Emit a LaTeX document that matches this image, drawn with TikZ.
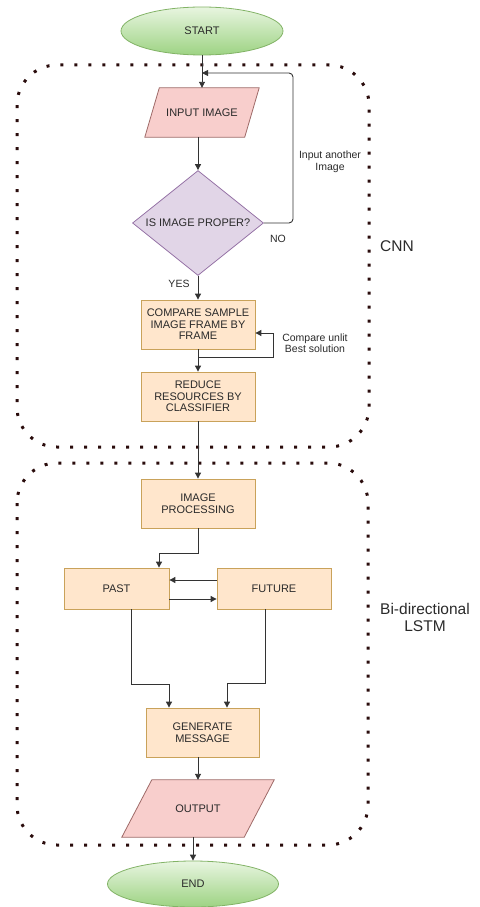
\documentclass[tikz,border=0pt]{standalone}
\usepackage{fontspec}
\setmainfont{Liberation Sans}
\usetikzlibrary{shapes.geometric,arrows.meta}
\definecolor{txt}{HTML}{2A2A2A}
\definecolor{ln}{HTML}{333333}
\definecolor{boxfill}{HTML}{FFE6CC}
\definecolor{boxline}{HTML}{C9A25A}
\definecolor{pinkfill}{HTML}{F8CECC}
\definecolor{pinkline}{HTML}{9E6A68}
\definecolor{lavfill}{HTML}{E1D5E7}
\definecolor{lavline}{HTML}{9673A6}
\definecolor{gtop}{HTML}{E8F5E0}
\definecolor{gbot}{HTML}{9DD383}
\definecolor{gline}{HTML}{82B366}
\definecolor{dotcol}{HTML}{2A0C0C}
\tikzset{
  every node/.style={text=txt, font=\fontsize{11}{11.5}\selectfont, align=center},
  procbox/.style={rectangle, draw=boxline, fill=boxfill, line width=0.8pt, inner sep=0pt},
  termin/.style={ellipse, draw=gline, top color=gtop, bottom color=gbot, line width=0.8pt, inner sep=0pt},
  iofill/.style={draw=pinkline, fill=pinkfill, line width=0.8pt},
  decbox/.style={diamond, draw=lavline, fill=lavfill, line width=0.8pt, inner sep=0pt},
  arr/.style={draw=ln, line width=0.9pt, -{Triangle[length=6pt,width=6pt]}},
  region/.style={draw=dotcol, line width=3pt, dash pattern=on 3pt off 11pt, line cap=butt, rounded corners=40pt},
  smalllabel/.style={font=\fontsize{10.5}{11.5}\selectfont},
  biglabel/.style={font=\fontsize{15.5}{17}\selectfont}
}
\begin{document}
\begin{tikzpicture}[x=1pt,y=-1pt]
\useasboundingbox (0,0) rectangle (479,907);
% regions
\draw[region] (17,65) rectangle (369,447);
\draw[region] (17,463) rectangle (368,845);
% nodes
\node[termin, minimum width=162pt, minimum height=48pt] (start) at (202,31) {START};
\node[minimum width=114pt, minimum height=49pt, inner sep=0pt] (inimg) at (202,112.5) {};
\path[iofill] ([xshift=14.5pt]inimg.north west) -- (inimg.north east) -- ([xshift=-14.5pt]inimg.south east) -- (inimg.south west) -- cycle;
\node (inimgtext) at (inimg) {INPUT IMAGE};
\node[decbox, minimum width=131pt, minimum height=105pt] (dia) at (198,223) {};
\node (diatext) at (dia) {IS IMAGE PROPER?};
\node[procbox, minimum width=114pt, minimum height=49pt] (cmp) at (198,324.5) {COMPARE SAMPLE\\IMAGE FRAME BY\\FRAME};
\node[procbox, minimum width=114pt, minimum height=49pt] (red) at (198,396.5) {REDUCE\\RESOURCES BY\\CLASSIFIER};
\node[procbox, minimum width=114pt, minimum height=49pt] (imp) at (198,503.5) {IMAGE\\PROCESSING};
\node[procbox, minimum width=105pt, minimum height=41pt] (past) at (116.5,588.5) {PAST};
\node[procbox, minimum width=114pt, minimum height=41pt] (fut) at (274,588.5) {FUTURE};
\node[procbox, minimum width=113pt, minimum height=49pt] (gen) at (202.5,732.5) {GENERATE\\MESSAGE};
\node[minimum width=152pt, minimum height=57pt, inner sep=0pt] (out) at (198,808.5) {};
\path[iofill] ([xshift=30pt]out.north west) -- (out.north east) -- ([xshift=-30pt]out.south east) -- (out.south west) -- cycle;
\node (outtext) at (out) {OUTPUT};
\node[termin, minimum width=171pt, minimum height=46pt] (end) at (193,884) {END};
% labels
\node[smalllabel] (nolab) at (278,239) {NO};
\node[smalllabel] (yeslab) at (179,284) {YES};
\node[smalllabel] (anotherlab) at (330,162) {Input another\\Image};
\node[smalllabel] (cmplab) at (315,343) {Compare unlit\\Best solution};
\node[biglabel] (cnnlab) at (397,246) {CNN};
\node[biglabel] (lstmlab) at (425,617) {Bi-directional\\LSTM};
% coordinates
\coordinate (nr) at (293,73);
\coordinate (lp) at (273,357);
\coordinate (j1) at (198,553);
\coordinate (j2) at (131,684);
\coordinate (j3) at (265,683);
% connectors
\draw[arr] (start.south) -- (inimg.north);
\draw[arr] (dia.north |- inimg.south) -- (dia.north);
\draw[arr, rounded corners=4pt] (dia.east) -| (nr) -- (start.south |- nr);
\draw[arr] (dia.south) -- (cmp.north);
\draw[arr] (cmp.south) -- (red.north);
\draw[arr] (cmp.south |- lp) -- (lp) |- ([yshift=-8.5pt]cmp.east);
\draw[arr] (red.south) -- (imp.north);
\draw[arr] (imp.south) -- (j1) -| ([xshift=42.5pt]past.north);
\draw[arr] ([yshift=8.5pt]fut.west) -- ([yshift=8.5pt]past.east);
\draw[arr] ([yshift=-10.5pt]past.east) -- ([yshift=-10.5pt]fut.west);
\draw[arr] ([xshift=14.5pt]past.south) -- (j2) -| ([xshift=-33.5pt]gen.north);
\draw[arr] ([xshift=-9pt]fut.south) -- (j3) -| ([xshift=24.5pt]gen.north);
\draw[arr] (out.north |- gen.south) -- (out.north);
\draw[arr] (end.north |- out.south) -- (end.north);
\end{tikzpicture}
\end{document}
